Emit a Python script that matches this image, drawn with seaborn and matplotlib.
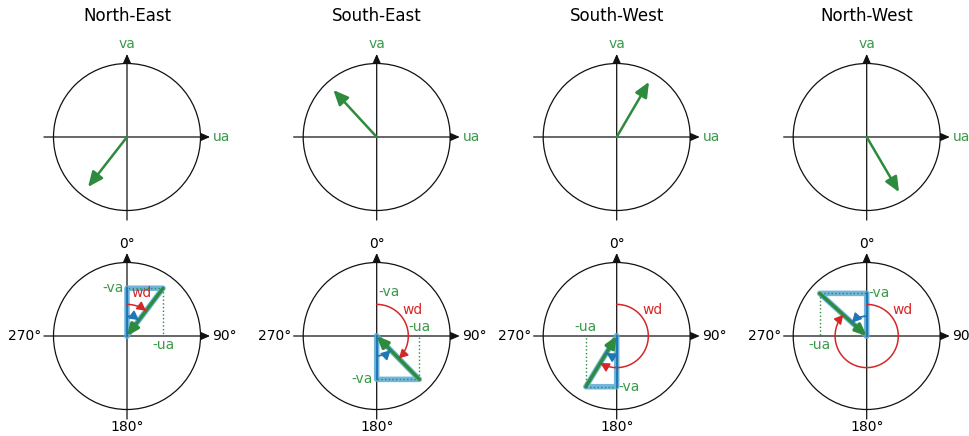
import numpy as np
import matplotlib.pyplot as plt
import seaborn as sns
from matplotlib.patches import Circle, FancyArrowPatch
from matplotlib.path import Path

sns.set_theme(style="white")
plt.rcParams['font.family'] = ['DejaVu Sans']

titulos = ["North-East", "South-East", "South-West", "North-West"]
# fila superior: vector de viento (ua, va)
top_ua = [-0.53, -0.59, 0.44, 0.44]
top_va = [-0.68, 0.64, 0.75, -0.75]
# fila inferior: vector invertido (-ua, -va)
neg_ua = [0.49, 0.58, -0.42, -0.64]
neg_va = [0.65, -0.59, -0.69, 0.58]
etiquetas_brujula = ["0°", "90°", "180°", "270°"]

VERDE = "#2e8b3e"
VERDE_TXT = "#3a9a4a"
AZUL = "#1f77b4"
AZUL_CLARO = "#5aaad6"
ROJO = "#d62728"
EJE = "#111111"

W, H = 970, 436
R_PX = 73.5
LIM = 1.3
col_x = [127, 376.7, 616.7, 866.7]
fila_y = [137, 336]
pos_wd = [(0.2, 0.58), (0.49, 0.35), (0.49, 0.35), (0.49, 0.35)]

fig = plt.figure(figsize=(W / 100, H / 100), dpi=100)


def crear_ax(cx, cy):
    size = 2 * LIM * R_PX
    ax = fig.add_axes([(cx - size / 2) / W, (H - cy - size / 2) / H, size / W, size / H])
    ax.set_xlim(-LIM, LIM)
    ax.set_ylim(-LIM, LIM)
    ax.set_aspect('equal')
    ax.axis('off')
    return ax


def flecha(ax, ini, fin, color, lw, escala=12, hl=0.75, hw=0.33, z=3):
    ax.annotate('', xy=fin, xytext=ini, zorder=z,
                arrowprops=dict(arrowstyle=f'-|>,head_length={hl},head_width={hw}',
                                color=color, lw=lw, mutation_scale=escala,
                                shrinkA=0, shrinkB=0))


def ejes(ax):
    ax.add_patch(Circle((0, 0), 1, fill=False, color=EJE, lw=0.9))
    flecha(ax, (-1.13, 0), (1.13, 0), EJE, 0.9, escala=7, hl=0.8, hw=0.35, z=1)
    flecha(ax, (0, -1.13), (0, 1.13), EJE, 0.9, escala=7, hl=0.8, hw=0.35, z=1)


def arco(ax, r, a0, a1, color, lw):
    t = np.radians(np.linspace(a0, a1, 80))
    verts = np.column_stack([r * np.sin(t), r * np.cos(t)])
    p = FancyArrowPatch(path=Path(verts), arrowstyle='-|>,head_length=0.65,head_width=0.35',
                        mutation_scale=8, color=color, lw=lw, zorder=4)
    ax.add_patch(p)


for i, titulo in enumerate(titulos):
    # --- fila superior ---
    ax = crear_ax(col_x[i], fila_y[0])
    ejes(ax)
    flecha(ax, (0, 0), (top_ua[i], top_va[i]), VERDE, 1.8)
    ax.text(0, 1.27, "va", color=VERDE_TXT, ha='center', va='center', fontsize=10)
    ax.text(1.17, 0, "ua", color=VERDE_TXT, ha='left', va='center', fontsize=10)
    fig.text(col_x[i] / W, 1 - 16 / H, titulo, ha='center', va='center', fontsize=12,
             color='black')

    # --- fila inferior ---
    ax = crear_ax(col_x[i], fila_y[1])
    ejes(ax)
    nu, nv = neg_ua[i], neg_va[i]

    # triángulo
    sns.lineplot(x=[0, 0, nu, 0], y=[0, nv, nv, 0], sort=False, estimator=None,
                 color=AZUL_CLARO, lw=4, alpha=0.85, ax=ax)
    sns.lineplot(x=[0, 0], y=[0, nv], sort=False, estimator=None, color=AZUL, lw=1.6, ax=ax)
    # proyecciones punteadas
    sns.lineplot(x=[nu, nu], y=[nv, 0], sort=False, estimator=None, color=VERDE,
                 lw=1, linestyle=':', ax=ax)
    sns.lineplot(x=[nu, 0], y=[nv, nv], sort=False, estimator=None, color=VERDE,
                 lw=1, linestyle=':', ax=ax)
    flecha(ax, (nu, nv), (0, 0), VERDE, 2.4, escala=9)

    # ángulos
    wd = np.degrees(np.arctan2(nu, nv)) % 360
    arco(ax, 0.43, 0, wd, ROJO, 1.1)
    a0 = 0 if nv > 0 else 180
    if a0 == 0 and wd > 180:
        a0 = 360
    arco(ax, 0.27, a0, wd, AZUL, 1.3)

    # etiquetas
    ax.text(nu, -0.12 * np.sign(nv), "-ua", color=VERDE_TXT, ha='center', va='center', fontsize=10)
    if nu > 0:
        ax.text(-0.05, nv, "-va", color=VERDE_TXT, ha='right', va='center', fontsize=10)
    else:
        ax.text(0.02, nv, "-va", color=VERDE_TXT, ha='left', va='center', fontsize=10)
    if titulo == "South-East":
        ax.text(0.02, 0.6, "-va", color=VERDE_TXT, ha='left', va='center', fontsize=10)
    ax.text(pos_wd[i][0], pos_wd[i][1], "wd", color=ROJO, ha='center', va='center', fontsize=10)

    ax.text(0, 1.25, etiquetas_brujula[0], color='black', ha='center', va='center', fontsize=10)
    ax.text(1.16, 0, etiquetas_brujula[1], color='black', ha='left', va='center', fontsize=10)
    ax.text(0, -1.24, etiquetas_brujula[2], color='black', ha='center', va='center', fontsize=10)
    ax.text(-1.16, 0, etiquetas_brujula[3], color='black', ha='right', va='center', fontsize=10)

fig.savefig("out.png", dpi=100)
